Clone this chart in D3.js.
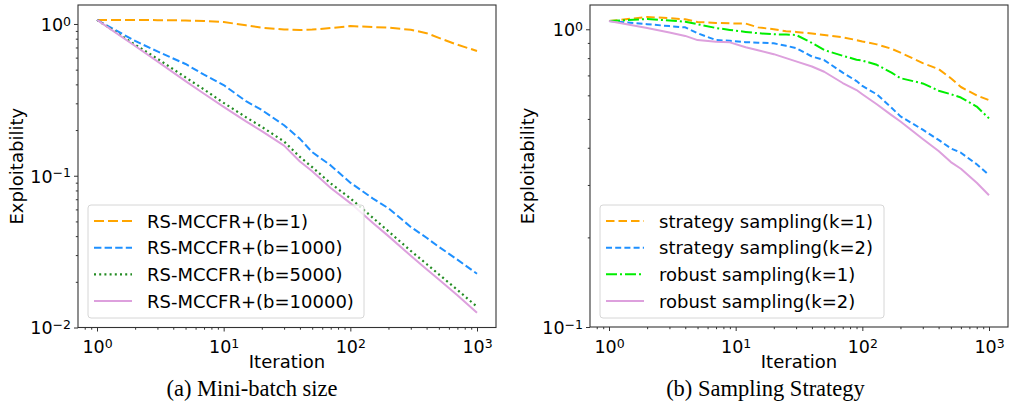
<!DOCTYPE html>
<html>
<head>
<meta charset="utf-8">
<script src="https://cdn.jsdelivr.net/npm/d3@7"></script>
<style>
  html, body { margin: 0; padding: 0; background: #fff; }
  svg { display: block; }
</style>
</head>
<body>
<svg id="chart" width="1009" height="403"></svg>
<script>
// ---------------- DATA ----------------
const itersA = [1, 2, 3, 5, 7, 10, 15, 20, 30, 40, 50, 70, 100, 150, 200, 300, 400, 500, 700, 1000];
const seriesNamesA = ["RS-MCCFR+(b=1)", "RS-MCCFR+(b=1000)", "RS-MCCFR+(b=5000)", "RS-MCCFR+(b=10000)"];
const b1     = [1.063, 1.062, 1.06, 1.055, 1.045, 1.03, 0.98, 0.945, 0.92, 0.913, 0.918, 0.94, 0.968, 0.955, 0.945, 0.915, 0.87, 0.81, 0.73, 0.664];
const b1000  = [1.063, 0.773, 0.659, 0.545, 0.463, 0.396, 0.31, 0.271, 0.215, 0.175, 0.143, 0.117, 0.09, 0.071, 0.061, 0.046, 0.039, 0.034, 0.028, 0.0226];
const b5000  = [1.063, 0.73, 0.59, 0.445, 0.37, 0.302, 0.243, 0.21, 0.168, 0.133, 0.114, 0.089, 0.071, 0.053, 0.043, 0.032, 0.0262, 0.0224, 0.0177, 0.0137];
const b10000 = [1.063, 0.716, 0.567, 0.42, 0.347, 0.284, 0.228, 0.197, 0.158, 0.124, 0.107, 0.083, 0.066, 0.049, 0.040, 0.0297, 0.0242, 0.0207, 0.0163, 0.0125];

const itersB = [1, 2, 3, 4, 5, 7, 9, 12, 15, 20, 25, 30, 40, 50, 70, 90, 100, 130, 170, 200, 300, 400, 500, 600, 800, 1000];
const seriesNamesB = ["strategy sampling(k=1)", "strategy sampling(k=2)", "robust sampling(k=1)", "robust sampling(k=2)"];
const stratK1  = [1.066, 1.10, 1.09, 1.08, 1.058, 1.05, 1.047, 1.045, 1.015, 1.0, 0.985, 0.98, 0.968, 0.957, 0.94, 0.92, 0.91, 0.89, 0.86, 0.835, 0.77, 0.735, 0.685, 0.64, 0.60, 0.578];
const stratK2  = [1.066, 1.04, 1.025, 1.015, 0.97, 0.92, 0.915, 0.905, 0.902, 0.897, 0.88, 0.865, 0.81, 0.788, 0.715, 0.67, 0.645, 0.605, 0.545, 0.51, 0.46, 0.425, 0.398, 0.385, 0.352, 0.324];
const robustK1 = [1.066, 1.083, 1.07, 1.06, 1.04, 1.01, 0.995, 0.98, 0.97, 0.962, 0.96, 0.957, 0.90, 0.852, 0.815, 0.79, 0.785, 0.76, 0.715, 0.685, 0.658, 0.622, 0.605, 0.59, 0.55, 0.502];
const robustK2 = [1.066, 1.01, 0.975, 0.95, 0.92, 0.908, 0.904, 0.87, 0.85, 0.825, 0.80, 0.78, 0.75, 0.72, 0.66, 0.625, 0.605, 0.56, 0.515, 0.49, 0.428, 0.39, 0.358, 0.34, 0.305, 0.277];

const xMajorTicks = [1, 10, 100, 1000];
const yMajorTicksA = [1, 0.1, 0.01];
const yMajorTicksB = [1, 0.1];
const captions = ["(a) Mini-batch size", "(b) Sampling Strategy"];
const xLabel = "Iteration";
const yLabel = "Exploitability";

// ---------------- STYLE ----------------
const stylesA = [
  {color: "#FFA500", dash: "10,4", width: 2},
  {color: "#1E90FF", dash: "7.4,3.2", width: 2},
  {color: "#228B22", dash: "2,3.2", width: 2.2},
  {color: "#DDA0DD", dash: null, width: 2}
];
const stylesB = [
  {color: "#FFA500", dash: "8.5,4", width: 2},
  {color: "#1E90FF", dash: "6,3.2", width: 2},
  {color: "#00EE00", dash: "11,3,2,3", width: 2},
  {color: "#DDA0DD", dash: null, width: 2}
];

const svg = d3.select("#chart");
const FONT = "DejaVu Sans, Verdana, sans-serif";
const SERIF = "Liberation Serif, Times New Roman, serif";

function logMinor(lo, hi) {
  const out = [];
  for (let e = -3; e <= 4; e++) {
    for (let m = 2; m <= 9; m++) {
      const v = m * Math.pow(10, e);
      if (v > lo && v < hi) out.push(v);
    }
  }
  return out;
}

function supLabel(sel) {
  sel.each(function(d) {
    const t = d3.select(this);
    const e = Math.round(Math.log10(d));
    t.text(null)
     .attr("font-family", FONT)
     .attr("font-size", 17.5)
     .attr("fill", "#000");
    t.append("tspan").text("10");
    t.append("tspan").attr("dy", "-0.42em").attr("font-size", 12.5)
      .text(e < 0 ? "\u2212" + (-e) : String(e));
  });
}

function panel(cfg) {
  const {left, right, top, bottom, xDomain, yDomain, yMajor, iters, series, styles, names,
         legend, yLabelX, captionX} = cfg;
  const x = d3.scaleLog().domain(xDomain).range([left, right]);
  const y = d3.scaleLog().domain(yDomain).range([bottom, top]);
  const g = svg.append("g");

  // minor ticks
  const xMinor = logMinor(xDomain[0], xDomain[1]);
  const yMinor = logMinor(yDomain[0], yDomain[1]);
  g.append("g").attr("transform", `translate(0,${bottom})`)
    .call(d3.axisBottom(x).tickValues(xMinor).tickSize(2.2).tickFormat(""))
    .call(s => s.select(".domain").remove())
    .call(s => s.selectAll("line").attr("stroke", "#333"));
  g.append("g").attr("transform", `translate(${left},0)`)
    .call(d3.axisLeft(y).tickValues(yMinor).tickSize(2.2).tickFormat(""))
    .call(s => s.select(".domain").remove())
    .call(s => s.selectAll("line").attr("stroke", "#333"));

  // major ticks
  const xa = g.append("g").attr("transform", `translate(0,${bottom})`)
    .call(d3.axisBottom(x).tickValues(xMajorTicks).tickSize(4).tickPadding(4));
  xa.select(".domain").remove();
  xa.selectAll("line").attr("stroke", "#333");
  xa.selectAll("text").attr("dy", "1.02em").call(supLabel);

  const ya = g.append("g").attr("transform", `translate(${left},0)`)
    .call(d3.axisLeft(y).tickValues(yMajor).tickSize(4).tickPadding(3));
  ya.select(".domain").remove();
  ya.selectAll("line").attr("stroke", "#333");
  ya.selectAll("text").attr("dy", "0.36em").call(supLabel);

  // lines
  const line = d3.line().x(d => x(d[0])).y(d => y(d[1]));
  series.forEach((vals, i) => {
    const st = styles[i];
    g.append("path")
      .datum(iters.map((it, j) => [it, vals[j]]))
      .attr("d", line)
      .attr("fill", "none")
      .attr("stroke", st.color)
      .attr("stroke-width", st.width)
      .attr("stroke-dasharray", st.dash)
      .attr("stroke-linejoin", "round");
  });

  // frame
  g.append("rect")
    .attr("x", left).attr("y", top)
    .attr("width", right - left).attr("height", bottom - top)
    .attr("fill", "none").attr("stroke", "#333").attr("stroke-width", 1.1);

  // legend
  const lg = g.append("g");
  lg.append("rect")
    .attr("x", legend.x).attr("y", legend.y)
    .attr("width", legend.w).attr("height", legend.h)
    .attr("rx", 3).attr("fill", "#fff").attr("fill-opacity", 0.8)
    .attr("stroke", "#d6d6d6").attr("stroke-width", 1);
  names.forEach((nm, i) => {
    const cy = legend.y + 16 + i * 26.67;
    const st = styles[i];
    lg.append("line")
      .attr("x1", legend.x + 6).attr("x2", legend.x + 44)
      .attr("y1", cy).attr("y2", cy)
      .attr("stroke", st.color).attr("stroke-width", st.width)
      .attr("stroke-dasharray", st.dash);
    lg.append("text")
      .attr("x", legend.x + legend.textOff).attr("y", cy + 6.6)
      .attr("font-family", FONT).attr("font-size", 18)
      .attr("fill", "#000")
      .text(nm);
  });

  // axis labels
  g.append("text")
    .attr("x", (left + right) / 2).attr("y", 367.5)
    .attr("text-anchor", "middle")
    .attr("font-family", FONT).attr("font-size", 18)
    .text(xLabel);
  g.append("text")
    .attr("transform", `translate(${yLabelX},${(top + bottom) / 2}) rotate(-90)`)
    .attr("text-anchor", "middle")
    .attr("font-family", FONT).attr("font-size", 18)
    .text(yLabel);

  g.append("text")
    .attr("x", captionX).attr("y", 396)
    .attr("text-anchor", "middle")
    .attr("font-family", SERIF).attr("font-size", 22.5)
    .text(cfg.caption);
}

panel({
  left: 78, right: 496, top: 5, bottom: 327.5,
  xDomain: [Math.pow(10, -0.15), Math.pow(10, 3.15)],
  yDomain: [0.01, Math.pow(10, 0.125)],
  yMajor: yMajorTicksA,
  iters: itersA,
  series: [b1, b1000, b5000, b10000],
  styles: stylesA,
  names: seriesNamesA,
  legend: {x: 88, y: 205, w: 276, h: 113, textOff: 59},
  yLabelX: 22.5,
  captionX: 252,
  caption: captions[0]
});

panel({
  left: 590, right: 1008, top: 5, bottom: 327,
  xDomain: [Math.pow(10, -0.15), Math.pow(10, 3.15)],
  yDomain: [0.1, Math.pow(10, 0.0816)],
  yMajor: yMajorTicksB,
  iters: itersB,
  series: [stratK1, stratK2, robustK1, robustK2],
  styles: stylesB,
  names: seriesNamesB,
  legend: {x: 600, y: 205, w: 284, h: 113, textOff: 59},
  yLabelX: 533.5,
  captionX: 765.5,
  caption: captions[1]
});
</script>
</body>
</html>
